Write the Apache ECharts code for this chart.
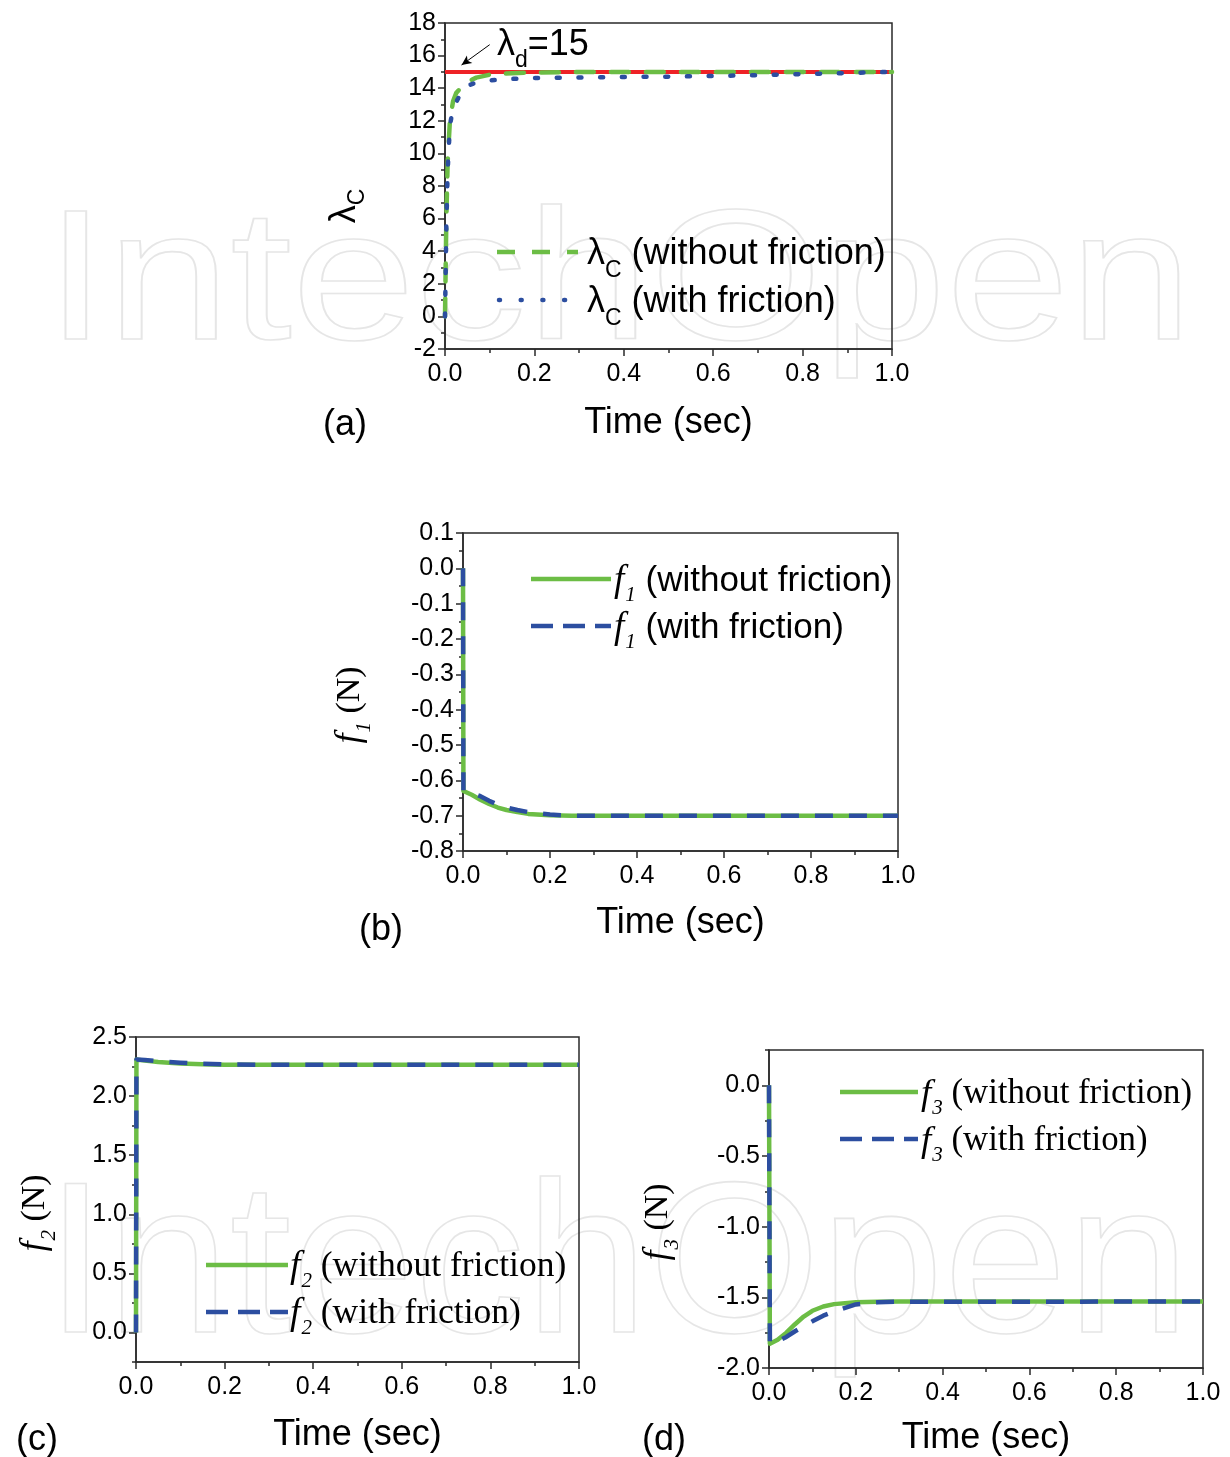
<!DOCTYPE html>
<html>
<head>
<meta charset="utf-8">
<script src="https://cdn.jsdelivr.net/npm/echarts@6/dist/echarts.min.js"></script>
<style>
html,body{margin:0;padding:0;background:#fff;}
#chart{width:1230px;height:1457px;}
</style>
</head>
<body>
<div id="chart"></div>
<script>
// ---------------- DATA ----------------
// Panel (a): lambda_C vs time
const timeA = [0, 0.003, 0.006, 0.011, 0.018, 0.025, 0.038, 0.05, 0.07, 0.1, 0.15, 0.2, 0.3, 0.4, 0.5, 0.6, 0.7, 0.8, 0.9, 0.95, 1.0];
const lambdaWithoutFriction = [0, 6, 9.5, 12, 13.2, 13.7, 14.1, 14.4, 14.65, 14.83, 14.92, 14.96, 14.99, 15, 15, 15, 15, 15, 15, 15, 15];
const lambdaWithFriction    = [0, 5.5, 9, 11.75, 12.7, 13.15, 13.8, 14.15, 14.35, 14.48, 14.57, 14.62, 14.66, 14.69, 14.71, 14.75, 14.8, 14.87, 14.93, 14.97, 15];
const timeDesired = [0, 1.0];
const lambdaDesired = [15, 15];

// Panel (b): f1
const timeB = [0, 0.001, 0.02, 0.04, 0.06, 0.08, 0.1, 0.125, 0.15, 0.2, 0.25, 0.3, 1.0];
const f1WithoutFriction = [0, -0.63, -0.641, -0.655, -0.667, -0.677, -0.684, -0.69, -0.695, -0.699, -0.7, -0.7, -0.7];
const f1WithFriction    = [0, -0.63, -0.636, -0.645, -0.658, -0.669, -0.677, -0.684, -0.69, -0.697, -0.7, -0.7, -0.7];

// Panel (c): f2
const timeC = [0, 0.001, 0.02, 0.05, 0.1, 0.15, 0.2, 0.3, 1.0];
const f2WithoutFriction = [0, 2.31, 2.300, 2.288, 2.276, 2.269, 2.266, 2.265, 2.265];
const f2WithFriction    = [0, 2.31, 2.305, 2.296, 2.283, 2.273, 2.268, 2.265, 2.265];

// Panel (d): f3
const timeD = [0, 0.002, 0.02, 0.04, 0.06, 0.08, 0.1, 0.125, 0.15, 0.2, 0.25, 0.3, 1.0];
const f3WithoutFriction = [0, -1.828, -1.8, -1.75, -1.69, -1.636, -1.595, -1.565, -1.548, -1.535, -1.531, -1.53, -1.53];
const f3WithFriction    = [0, -1.83, -1.81, -1.78, -1.74, -1.705, -1.67, -1.63, -1.6, -1.55, -1.535, -1.531, -1.53];

// Tick values
const yTicksC = [0, 0.5, 1.0, 1.5, 2.0, 2.5];
const yMinorTicksC = [-0.25, 0.25, 0.75, 1.25, 1.75, 2.25];
const yTicksD = [-2.0, -1.5, -1.0, -0.5, 0.0];
const yMinorTicksD = [-1.75, -1.25, -0.75, -0.25, 0.25];

// ---------------- STYLE ----------------
const SANS = '"Liberation Sans", Arial, sans-serif';
const GREEN = '#6cbd45';
const BLUE = '#2c4ea0';
const RED = '#ee2226';
const AXIS = '#2a2a2a';

function pairs(t, v) { return t.map((x, i) => [x, v[i]]); }
function fmt1(v) { return Math.abs(v) < 1e-9 ? '0.0' : v.toFixed(1); }

function xAxisFor(gi, gap) {
  return {
    type: 'value', gridIndex: gi, min: 0, max: 1, interval: 0.2,
    name: 'Time (sec)', nameLocation: 'middle', nameGap: gap,
    nameTextStyle: { fontFamily: SANS, fontSize: 36, color: '#000' },
    axisLine: { show: true, onZero: false, lineStyle: { color: AXIS, width: 1.5 } },
    axisTick: { show: true, length: 7, lineStyle: { color: AXIS, width: 1.5 } },
    minorTick: { show: true, splitNumber: 2, length: 4, lineStyle: { color: AXIS, width: 1.5 } },
    splitLine: { show: false },
    axisLabel: { fontFamily: SANS, fontSize: 25, color: '#000', margin: 13, formatter: fmt1 }
  };
}
function yBase(gi, min, max) {
  return {
    type: 'value', gridIndex: gi, min: min, max: max, position: 'left', offset: 0,
    axisLine: { show: true, onZero: false, lineStyle: { color: AXIS, width: 1.5 } },
    axisTick: { show: true, length: 7, lineStyle: { color: AXIS, width: 1.5 } },
    splitLine: { show: false },
    axisLabel: { fontFamily: SANS, fontSize: 25, color: '#000', margin: 9 }
  };
}

const yA = yBase(0, -2, 18);
yA.interval = 2;
yA.minorTick = { show: true, splitNumber: 2, length: 4, lineStyle: { color: AXIS, width: 1.5 } };

const yB = yBase(1, -0.8, 0.1);
yB.interval = 0.1;
yB.axisLabel.formatter = fmt1;
yB.minorTick = { show: true, splitNumber: 2, length: 4, lineStyle: { color: AXIS, width: 1.5 } };

const yC = yBase(2, -0.25, 2.5);
yC.axisLabel.customValues = yTicksC;
yC.axisLabel.formatter = fmt1;
yC.axisTick.customValues = yTicksC;
const yCm = yBase(2, -0.25, 2.5);
yCm.axisLine.show = false;
yCm.axisLabel = { show: false };
yCm.axisTick = { show: true, length: 4, customValues: yMinorTicksC, lineStyle: { color: AXIS, width: 1.5 } };

const yD = yBase(3, -2, 0.25);
yD.axisLabel.customValues = yTicksD;
yD.axisLabel.formatter = fmt1;
yD.axisTick.customValues = yTicksD;
const yDm = yBase(3, -2, 0.25);
yDm.axisLine.show = false;
yDm.axisLabel = { show: false };
yDm.axisTick = { show: true, length: 4, customValues: yMinorTicksD, lineStyle: { color: AXIS, width: 1.5 } };

function gridBox(left, top, width, height) {
  return { left: left, top: top, width: width, height: height, show: true, borderColor: AXIS, borderWidth: 1.5, backgroundColor: 'transparent' };
}

function lineSeries(name, xi, yi, data, color, type, width, cap) {
  return {
    name: name, type: 'line', xAxisIndex: xi, yAxisIndex: yi, data: data,
    showSymbol: false, symbol: 'none', animation: false, silent: true,
    lineStyle: { color: color, width: width, type: type, cap: cap || 'butt', join: 'round' }
  };
}

// ---- text with subscripts: a group of measured text pieces ----
const mctx = document.createElement('canvas').getContext('2d');
function measure(text, font) { mctx.font = font; return mctx.measureText(text).width; }
const F_SANS = s => s + 'px "Liberation Sans"';
const F_SERIF = s => s + 'px "Liberation Serif"';
const F_ITAL = s => 'italic ' + s + 'px "Liberation Serif"';

function label(x, y, parts, align, rot) {
  const widths = parts.map(p => measure(p.t, p.font) + (p.kern || 0));
  const total = widths.reduce((a, b) => a + b, 0);
  let cx = align === 'center' ? -total / 2 : 0;
  const children = parts.map((p, i) => {
    const el = {
      type: 'text', x: cx, y: p.dy || 0, silent: true,
      style: { text: p.t, font: p.font, fill: '#000', align: 'left', verticalAlign: 'middle' }
    };
    cx += widths[i];
    return el;
  });
  return { type: 'group', x: x, y: y, rotation: rot || 0, z: 10, silent: true, children: children };
}
function lambdaParts(sub, rest, size, subSize, dy) {
  const p = [{ t: 'λ', font: F_SANS(size) }, { t: sub, font: F_SANS(subSize), dy: dy }];
  if (rest) p.push({ t: rest, font: F_SANS(size) });
  return p;
}
function fParts(sub, rest, size, sansRest) {
  const p = [{ t: 'f', font: F_ITAL(size + 2), kern: 1 }, { t: sub, font: F_ITAL(21), dy: 14 }];
  if (rest) p.push({ t: rest, font: sansRest ? F_SANS(size) : F_SERIF(size) });
  return p;
}

function plain(x, y, text, size) {
  return {
    type: 'text', x: x, y: y, z: 10, silent: true,
    style: { text: text, font: F_SANS(size), fill: '#000', align: 'center', verticalAlign: 'middle' }
  };
}
function sample(x1, x2, y, color, dash, cap) {
  return {
    type: 'line', z: 10, silent: true,
    shape: { x1: x1, y1: y, x2: x2, y2: y },
    style: { stroke: color, lineWidth: 4.5, lineDash: dash || null, lineCap: cap || 'butt' }
  };
}
function watermark(x, y, size, sx) {
  return {
    type: 'text', x: x, y: y, z: -5, silent: true, scaleX: sx,
    style: { text: 'IntechOpen', font: F_SANS(size), fill: 'rgba(0,0,0,0)', stroke: '#e6e6e6', lineWidth: 1.6, align: 'left', verticalAlign: 'middle' }
  };
}

const DOTS = [3, 18.7];
const DASH_A = [18, 17];
const DASH = [18, 16];

const option = {
  backgroundColor: '#fff',
  animation: false,
  grid: [
    gridBox(445, 23, 447, 326),
    gridBox(463, 533, 435, 318),
    gridBox(136, 1037, 443, 325),
    gridBox(769, 1050, 434, 318)
  ],
  xAxis: [xAxisFor(0, 56), xAxisFor(1, 54), xAxisFor(2, 55), xAxisFor(3, 52)],
  yAxis: [yA, yB, yC, yCm, yD, yDm],
  series: [
    Object.assign(lineSeries('lambda_d', 0, 0, pairs(timeDesired, lambdaDesired), RED, 'solid', 4), {
      markLine: {
        silent: true, animation: false, symbol: ['none', 'arrow'], symbolSize: [7, 10],
        lineStyle: { color: '#000', width: 1, type: 'solid' }, label: { show: false },
        data: [[{ coord: [0.1, 16.67] }, { coord: [0.037, 15.42] }]]
      }
    }),
    lineSeries('lambda_c without friction', 0, 0, pairs(timeA, lambdaWithoutFriction), GREEN, DASH_A, 4.5, 'round'),
    lineSeries('lambda_c with friction', 0, 0, pairs(timeA, lambdaWithFriction), BLUE, DOTS, 4.5, 'round'),
    lineSeries('f1 without friction', 1, 1, pairs(timeB, f1WithoutFriction), GREEN, 'solid', 4.5),
    lineSeries('f1 with friction', 1, 1, pairs(timeB, f1WithFriction), BLUE, DASH, 4.5),
    lineSeries('f2 without friction', 2, 2, pairs(timeC, f2WithoutFriction), GREEN, 'solid', 4.5),
    lineSeries('f2 with friction', 2, 2, pairs(timeC, f2WithFriction), BLUE, DASH, 4.5),
    lineSeries('f3 without friction', 3, 4, pairs(timeD, f3WithoutFriction), GREEN, 'solid', 4.5),
    lineSeries('f3 with friction', 3, 4, pairs(timeD, f3WithFriction), BLUE, DASH, 4.5)
  ],
  graphic: [
    watermark(45, 288, 185, 1.2),
    watermark(45, 1273, 215, 1.03),
    // panel labels
    plain(345, 425, '(a)', 36),
    plain(381, 930, '(b)', 36),
    plain(37, 1440, '(c)', 36),
    plain(664, 1440, '(d)', 36),
    // annotation lambda_d = 15
    label(497, 45, lambdaParts('d', '=15', 36, 23, 16)),
    // y-axis titles
    label(345, 206, lambdaParts('C', '', 36, 23, 13), 'center', Math.PI / 2),
    label(350, 705, fParts('1', ' (N)', 34, false), 'center', Math.PI / 2),
    label(35, 1213, fParts('2', ' (N)', 34, false), 'center', Math.PI / 2),
    label(658, 1222, fParts('3', ' (N)', 34, false), 'center', Math.PI / 2),
    // legend (a)
    sample(497, 578, 252, GREEN, DASH_A, 'butt'),
    sample(499, 578, 300, BLUE, [1, 20.7], 'round'),
    label(587, 254, lambdaParts('C', ' (without friction)', 36, 23, 17)),
    label(587, 302, lambdaParts('C', ' (with friction)', 36, 23, 17)),
    // legend (b)
    sample(531, 611, 579, GREEN),
    sample(531, 611, 626, BLUE, [22, 10]),
    label(614, 581, fParts('1', ' (without friction)', 35, true)),
    label(614, 628, fParts('1', ' (with friction)', 35, true)),
    // legend (c)
    sample(206, 288, 1265, GREEN),
    sample(206, 288, 1312, BLUE, [22, 10]),
    label(290, 1267, fParts('2', ' (without friction)', 35.5, false)),
    label(290, 1314, fParts('2', ' (with friction)', 35.5, false)),
    // legend (d)
    sample(840, 918, 1092, GREEN),
    sample(840, 918, 1139, BLUE, [22, 10]),
    label(921, 1094, fParts('3', ' (without friction)', 34.8, false)),
    label(921, 1141, fParts('3', ' (with friction)', 34.8, false))
  ]
};

const chart = echarts.init(document.getElementById('chart'), null, { renderer: 'canvas' });
chart.setOption(option);
</script>
</body>
</html>
